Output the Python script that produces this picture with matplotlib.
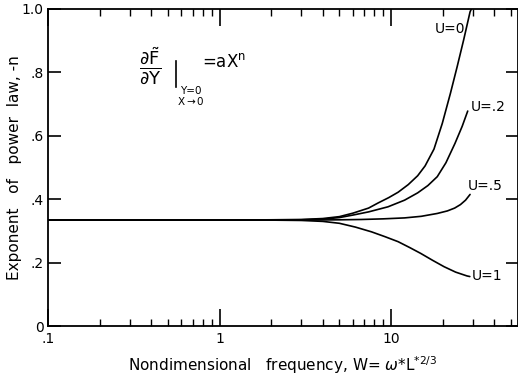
#!/usr/bin/env python3
"""
Exponent of the power law for the wall gradient vs nondimensional frequency.
"""

import numpy as np
import matplotlib
matplotlib.use('Agg')  # Use non-interactive backend
import matplotlib.pyplot as plt
from matplotlib.lines import Line2D
from matplotlib.ticker import FixedLocator, NullFormatter

# Curves: frequency W and exponent -n
W_U0 = [0.1, 1, 2, 3, 4, 5, 6, 7.4, 8.4, 9.7, 11, 12.6, 14.3, 15.8, 17.8,
        19.9, 22.2, 24.3, 26.5, 28.9, 29.4]
N_U0 = [0.334, 0.334, 0.335, 0.336, 0.339, 0.345, 0.356, 0.372, 0.388, 0.405,
        0.422, 0.446, 0.474, 0.505, 0.558, 0.639, 0.734, 0.818, 0.902, 0.991,
        1.0]

W_U02 = [0.1, 1, 2, 3, 4, 5, 6, 7.4, 9.6, 12, 14.3, 16.4, 18.6, 20.9, 23.6,
         26, 28]
N_U02 = [0.334, 0.334, 0.334, 0.335, 0.337, 0.342, 0.35, 0.36, 0.376, 0.397,
         0.42, 0.443, 0.471, 0.515, 0.576, 0.63, 0.678]

W_U05 = [0.1, 1, 2, 3, 5, 6.7, 9, 12, 15, 18.6, 21.3, 23.5, 25.4, 27.2, 28.9]
N_U05 = [0.334, 0.334, 0.334, 0.334, 0.335, 0.336, 0.338, 0.341, 0.346, 0.355,
         0.363, 0.372, 0.383, 0.397, 0.415]

W_U1 = [0.1, 1, 2, 3, 4, 5, 6.2, 7.7, 9.2, 11, 12.9, 14.9, 17.5, 20.4, 23.8,
        27.7, 28.8]
N_U1 = [0.334, 0.334, 0.334, 0.333, 0.33, 0.324, 0.312, 0.297, 0.282, 0.266,
        0.247, 0.229, 0.207, 0.187, 0.17, 0.158, 0.156]

CURVES = [(W_U0, N_U0), (W_U02, N_U02), (W_U05, N_U05), (W_U1, N_U1)]
CURVE_LABELS = ["U=0", "U=.2", "U=.5", "U=1"]
LABEL_POS = [(0.855, 0.937), (0.936, 0.691), (0.930, 0.442), (0.934, 0.158)]

Y_TICKS = [0, 0.2, 0.4, 0.6, 0.8, 1.0]
Y_TICKLABELS = ["0", ".2", ".4", ".6", ".8", "1.0"]
X_TICKS = [0.1, 1, 10]
X_TICKLABELS = [".1", "1", "10"]
X_MINOR = [m * d for d in (0.1, 1, 10) for m in range(2, 10) if m * d <= 50]


def plot_exponent():
    fig = plt.figure(figsize=(5.18, 3.79), dpi=100)
    ax = fig.add_axes([48 / 518, 53 / 379, 470 / 518, 317 / 379])

    for w, n in CURVES:
        ax.plot(w, n, color='black', lw=1.2, solid_capstyle='round',
                solid_joinstyle='round')

    ax.set_xscale('log')
    ax.set_xlim(0.1, 55)
    ax.set_ylim(0, 1.0)

    ax.xaxis.set_major_locator(FixedLocator(X_TICKS))
    ax.set_xticklabels(X_TICKLABELS)
    ax.xaxis.set_minor_locator(FixedLocator(X_MINOR))
    ax.xaxis.set_minor_formatter(NullFormatter())
    ax.set_yticks(Y_TICKS)
    ax.set_yticklabels(Y_TICKLABELS)

    ax.tick_params(axis='x', which='major', direction='in', length=12, width=1.2,
                   top=True, labelsize=10, pad=4)
    ax.tick_params(axis='x', which='minor', direction='in', length=5, width=1.0,
                   top=True)
    ax.tick_params(axis='y', which='major', direction='in', length=9, width=1.2,
                   right=True, labelsize=10, pad=3)
    for s in ax.spines.values():
        s.set_linewidth(1.3)

    ax.set_xlabel(r'Nondimensional   frequency, W= $\omega$*L$^{*2/3}$',
                  fontsize=11, labelpad=6)
    ax.set_ylabel('Exponent   of   power  law, -n', fontsize=11, labelpad=0)

    for label, (lx, ly) in zip(CURVE_LABELS, LABEL_POS):
        ax.text(lx, ly, label, transform=ax.transAxes, ha='center', va='center',
                fontsize=10)

    # Formula in the upper left
    ax.text(0.2175, 0.82, r'$\dfrac{\partial\tilde{\mathrm{F}}}{\partial \mathrm{Y}}$',
            transform=ax.transAxes, ha='center', va='center', fontsize=13)
    ax.add_line(Line2D([0.273, 0.273], [0.754, 0.835], transform=ax.transAxes,
                       color='black', lw=1.2))
    ax.text(0.303, 0.741, 'Y=0', transform=ax.transAxes, ha='center',
            va='center', fontsize=7.5)
    ax.text(0.303, 0.711, r'X$\rightarrow$0', transform=ax.transAxes,
            ha='center', va='center', fontsize=7.5)
    ax.text(0.328, 0.817, r'=aX$^{\mathrm{n}}$', transform=ax.transAxes,
            ha='left', va='baseline', fontsize=12)

    fig.savefig('out.png', dpi=100)
    plt.close()


def main():
    plot_exponent()


if __name__ == "__main__":
    main()
